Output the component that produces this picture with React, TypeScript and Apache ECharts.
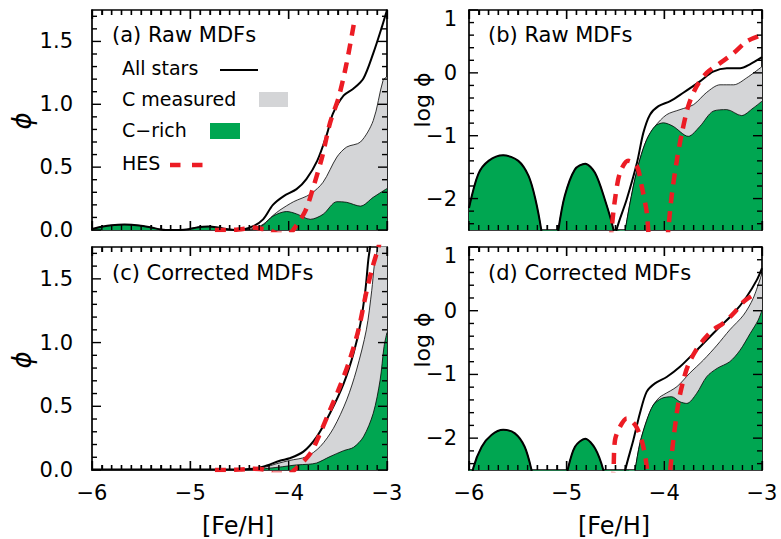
import React, { useEffect, useRef } from "react";
import * as echarts from "echarts";

type P = [number, number];

// ---- tick labels / texts ----
const feTicks = [-6, -5, -4, -3];
const phiTicks = [0, 0.5, 1.0, 1.5];
const logPhiTicks = [-2, -1, 0, 1];
const panelTitles = ["(a) Raw MDFs", "(b) Raw MDFs", "(c) Corrected MDFs", "(d) Corrected MDFs"];
const legendNames = ["All stars", "C measured", "C\u2212rich", "HES"];

// ---- (a) Raw MDFs, linear phi ----
const rawAll: P[] = [
  [-6.0, 0.008], [-5.9, 0.026], [-5.8, 0.038], [-5.67, 0.043], [-5.52, 0.036], [-5.4, 0.02], [-5.3, 0.004],
  [-5.25, 0.0], [-5.1, 0.0], [-5.02, 0.006], [-4.92, 0.022], [-4.82, 0.027], [-4.72, 0.02], [-4.62, 0.006],
  [-4.54, 0.0], [-4.46, 0.004], [-4.36, 0.03], [-4.26, 0.085], [-4.16, 0.2], [-4.05, 0.27], [-3.92, 0.325],
  [-3.82, 0.405], [-3.71, 0.55], [-3.61, 0.765], [-3.55, 0.925], [-3.44, 1.07], [-3.34, 1.125], [-3.24, 1.205],
  [-3.14, 1.405], [-3.05, 1.62], [-3.0, 1.75],
];
const rawMeasured: P[] = [
  [-4.46, 0.0], [-4.36, 0.012], [-4.26, 0.045], [-4.16, 0.115], [-4.09, 0.158], [-3.95, 0.225], [-3.78, 0.285],
  [-3.65, 0.38], [-3.51, 0.58], [-3.41, 0.66], [-3.27, 0.7], [-3.14, 0.87], [-3.04, 1.19], [-3.0, 1.22],
];
const rawRich: P[] = [
  [-6.0, 0.008], [-5.9, 0.026], [-5.8, 0.038], [-5.67, 0.043], [-5.52, 0.036], [-5.4, 0.02], [-5.3, 0.004],
  [-5.25, 0.0], [-5.1, 0.0], [-5.02, 0.006], [-4.92, 0.022], [-4.82, 0.027], [-4.72, 0.02], [-4.62, 0.006],
  [-4.54, 0.0], [-4.4, 0.0], [-4.32, 0.015], [-4.25, 0.045], [-4.16, 0.11], [-4.02, 0.147], [-3.92, 0.128],
  [-3.78, 0.085], [-3.65, 0.125], [-3.51, 0.225], [-3.41, 0.22], [-3.27, 0.19], [-3.14, 0.26], [-3.0, 0.33],
];
const rawHes: P[] = [
  [-4.75, 0.0], [-4.55, 0.002], [-4.45, 0.01], [-4.37, 0.02], [-4.28, 0.01], [-4.2, 0.0], [-4.1, -0.03],
  [-4.0, -0.03], [-3.95, 0.005], [-3.83, 0.152], [-3.75, 0.34], [-3.66, 0.58], [-3.58, 0.85], [-3.49, 1.06],
  [-3.41, 1.33], [-3.33, 1.67],
];

// ---- (b) Raw MDFs, log phi ----
const rawLogAll: P[] = [
  [-6.0, -2.15], [-5.905, -1.61], [-5.8, -1.4], [-5.65, -1.31], [-5.495, -1.4], [-5.39, -1.64], [-5.32, -2.01],
  [-5.26, -2.5], [-5.2, -3.2], [-5.14, -3.2], [-5.085, -2.5], [-5.02, -1.96], [-4.915, -1.535], [-4.81, -1.445],
  [-4.71, -1.59], [-4.61, -2.01], [-4.52, -2.5], [-4.505, -2.75], [-4.49, -2.5], [-4.385, -2.01], [-4.28, -1.43],
  [-4.215, -0.955], [-4.147, -0.665], [-4.06, -0.53], [-3.94, -0.45], [-3.81, -0.32], [-3.635, -0.135],
  [-3.5, 0.02], [-3.36, 0.075], [-3.225, 0.075], [-3.12, 0.14], [-3.0, 0.25],
];
const rawLogMeasured: P[] = [
  [-4.46, -3.2], [-4.4, -2.5], [-4.317, -1.8], [-4.25, -1.375], [-4.18, -1.06], [-4.096, -0.85], [-3.976, -0.665],
  [-3.84, -0.585], [-3.7, -0.505], [-3.566, -0.31], [-3.43, -0.19], [-3.29, -0.19], [-3.157, -0.08], [-3.0, 0.1],
];
const rawLogRich: P[] = [
  [-6.0, -2.15], [-5.905, -1.61], [-5.8, -1.4], [-5.65, -1.31], [-5.495, -1.4], [-5.39, -1.64], [-5.32, -2.01],
  [-5.26, -2.5], [-5.2, -3.2], [-5.14, -3.2], [-5.085, -2.5], [-5.02, -1.96], [-4.915, -1.535], [-4.81, -1.445],
  [-4.71, -1.59], [-4.61, -2.01], [-4.52, -2.5], [-4.46, -3.2], [-4.4, -2.5], [-4.317, -1.8], [-4.25, -1.375],
  [-4.18, -1.06], [-4.096, -0.85], [-4.01, -0.795], [-3.91, -0.85], [-3.755, -1.01], [-3.635, -0.85],
  [-3.5, -0.61], [-3.36, -0.585], [-3.21, -0.68], [-3.09, -0.56], [-3.0, -0.45],
];
const rawLogHes: P[] = [
  [-4.56, -3.0], [-4.54, -2.5], [-4.505, -2.01], [-4.454, -1.59], [-4.37, -1.4], [-4.283, -1.48], [-4.232, -1.8],
  [-4.18, -2.22], [-4.165, -2.5], [-4.14, -3.0], [-3.99, -3.0], [-3.96, -2.5], [-3.925, -1.96], [-3.87, -1.375],
  [-3.82, -0.955], [-3.755, -0.53], [-3.67, -0.215], [-3.566, 0.0], [-3.43, 0.155], [-3.29, 0.315],
  [-3.157, 0.5], [-3.04, 0.58],
];

// ---- (c) Corrected MDFs, linear phi ----
const corAll: P[] = [
  [-6.0, 0.004], [-5.5, 0.004], [-5.0, 0.004], [-4.6, 0.004], [-4.4, 0.008], [-4.26, 0.026], [-4.09, 0.073],
  [-3.99, 0.092], [-3.85, 0.144], [-3.715, 0.26], [-3.58, 0.445], [-3.44, 0.68], [-3.34, 0.916], [-3.27, 1.15],
  [-3.22, 1.41], [-3.19, 1.65], [-3.17, 1.76], [-3.15, 1.9],
];
const corMeasured: P[] = [
  [-6.0, 0.004], [-4.6, 0.004], [-4.4, 0.006], [-4.25, 0.02], [-4.12, 0.05], [-3.99, 0.075], [-3.82, 0.104],
  [-3.68, 0.183], [-3.545, 0.327], [-3.41, 0.55], [-3.31, 0.785], [-3.21, 1.1], [-3.155, 1.41], [-3.13, 1.6],
  [-3.105, 1.7], [-3.08, 1.8], [-3.0, 2.1],
];
const corRich: P[] = [
  [-6.0, 0.004], [-4.6, 0.004], [-4.3, 0.006], [-4.2, 0.014], [-4.06, 0.026], [-3.92, 0.04], [-3.8, 0.045],
  [-3.715, 0.055], [-3.58, 0.105], [-3.44, 0.152], [-3.34, 0.178], [-3.24, 0.26], [-3.14, 0.445], [-3.07, 0.706],
  [-3.03, 0.97], [-3.0, 1.08],
];
const corHes: P[] = [
  [-4.75, 0.0], [-4.5, 0.003], [-4.37, 0.01], [-4.25, 0.003], [-4.15, -0.03], [-4.0, -0.03], [-3.935, 0.005],
  [-3.78, 0.13], [-3.68, 0.288], [-3.58, 0.47], [-3.48, 0.654], [-3.38, 0.863], [-3.29, 1.1], [-3.22, 1.36],
  [-3.155, 1.57], [-3.09, 1.74], [-3.07, 1.8],
];

// ---- (d) Corrected MDFs, log phi ----
const corLogAll: P[] = [
  [-6.0, -2.9], [-5.956, -2.47], [-5.87, -2.135], [-5.77, -1.95], [-5.65, -1.87], [-5.53, -1.925], [-5.43, -2.135],
  [-5.36, -2.5], [-5.3, -3.0], [-5.05, -3.0], [-4.99, -2.5], [-4.915, -2.135], [-4.81, -2.01], [-4.71, -2.16],
  [-4.625, -2.5], [-4.56, -3.0], [-4.46, -3.0], [-4.4, -2.5], [-4.317, -2.03], [-4.25, -1.61], [-4.18, -1.27],
  [-4.096, -1.14], [-3.976, -1.04], [-3.84, -0.88], [-3.7, -0.67], [-3.566, -0.46], [-3.43, -0.25],
  [-3.29, -0.04], [-3.157, 0.22], [-3.054, 0.48], [-3.0, 0.67],
];
const corLogMeasured: P[] = [
  [-4.36, -3.0], [-4.3, -2.5], [-4.25, -2.08], [-4.18, -1.72], [-4.113, -1.48], [-4.05, -1.36], [-4.01, -1.32],
  [-3.87, -1.19], [-3.74, -0.98], [-3.6, -0.775], [-3.46, -0.54], [-3.33, -0.3], [-3.19, -0.07], [-3.09, 0.195],
  [-3.0, 0.59],
];
const corLogRich: P[] = [
  [-6.0, -2.9], [-5.956, -2.47], [-5.87, -2.135], [-5.77, -1.95], [-5.65, -1.87], [-5.53, -1.925], [-5.43, -2.135],
  [-5.36, -2.5], [-5.3, -3.0], [-5.05, -3.0], [-4.99, -2.5], [-4.915, -2.135], [-4.81, -2.01], [-4.71, -2.16],
  [-4.625, -2.5], [-4.56, -3.0], [-4.36, -3.0], [-4.3, -2.5], [-4.25, -2.08], [-4.18, -1.72], [-4.113, -1.48],
  [-4.027, -1.375], [-3.925, -1.35], [-3.84, -1.43], [-3.77, -1.455], [-3.67, -1.3], [-3.566, -1.035],
  [-3.46, -0.905], [-3.33, -0.8], [-3.225, -0.62], [-3.12, -0.355], [-3.04, -0.15], [-3.0, 0.01],
];
const corLogHes: P[] = [
  [-4.54, -3.0], [-4.52, -2.5], [-4.505, -2.03], [-4.454, -1.82], [-4.385, -1.69], [-4.3, -1.79], [-4.232, -2.03],
  [-4.18, -2.45], [-4.16, -3.0], [-3.97, -3.0], [-3.94, -2.5], [-3.908, -2.03], [-3.857, -1.455], [-3.805, -1.09],
  [-3.755, -0.85], [-3.686, -0.645], [-3.6, -0.46], [-3.5, -0.3], [-3.4, -0.2], [-3.29, -0.04], [-3.19, 0.14],
  [-3.09, 0.245],
];

// ---- axis ranges & tick steps ----
const feRange = [-6, -3];
const phiRange = [0, 1.75];
const logPhiRange = [-2.5, 1];
const feMinorStep = 0.1;
const phiMinorStep = 0.1;
const logPhiMinorStep = 0.2;
const MAJOR_LEN = 9;
const MINOR_LEN = 5;

// ---- styles ----
const FONT = "'DejaVu Sans', 'Liberation Sans', sans-serif";
const GREEN = "#00a651";
const GRAY = "#d4d5d7";
const RED = "#ec1c24";
const BLACK = "#000000";
const minus = (s: string) => s.replace("-", "\u2212");

const grids = [
  { left: 92, top: 10, width: 295, height: 220 },
  { left: 469, top: 10, width: 293, height: 220 },
  { left: 92, top: 247, width: 295, height: 223 },
  { left: 469, top: 247, width: 293, height: 223 },
];
const panelIsLog = [false, true, false, true];

function stepValues(lo: number, hi: number, step: number) {
  const out: number[] = [];
  const n0 = Math.ceil(lo / step - 1e-6);
  const n1 = Math.floor(hi / step + 1e-6);
  for (let n = n0; n <= n1; n++) out.push(Math.round(n * step * 1000) / 1000);
  return out;
}
const isMultiple = (v: number, m: number) => Math.abs(v / m - Math.round(v / m)) < 1e-6;

function xAxesFor(gi: number, labels: boolean) {
  const base: any = {
    gridIndex: gi,
    type: "value",
    min: feRange[0],
    max: feRange[1],
    interval: 1,
    splitLine: { show: false },
    axisTick: { show: true, inside: true, length: MAJOR_LEN, lineStyle: { color: BLACK, width: 1.3 } },
    minorTick: { show: true, splitNumber: 10, length: MINOR_LEN, lineStyle: { color: BLACK, width: 1.3 } },
    axisLine: { show: true, onZero: false, lineStyle: { color: BLACK, width: 1.7 } },
  };
  return [
    {
      ...base,
      position: "bottom",
      axisLabel: {
        show: labels, color: BLACK, fontSize: 21, fontFamily: FONT, margin: 12,
        formatter: (v: number) => (feTicks.includes(v) ? minus(String(v)) : ""),
      },
    },
    { ...base, position: "top", axisLabel: { show: false } },
  ];
}

function yAxesFor(gi: number, log: boolean) {
  const range = log ? logPhiRange : phiRange;
  const spacing = log ? { minInterval: 1, maxInterval: 1 } : { interval: 0.5 };
  const common: any = {
    gridIndex: gi, type: "value", min: range[0], max: range[1], ...spacing,
    splitLine: { show: false },
    axisTick: { show: false },
    axisLine: { show: true, onZero: false, lineStyle: { color: BLACK, width: 1.7 } },
  };
  const label = {
    show: true, color: BLACK, fontSize: 21, fontFamily: FONT, margin: log ? 12 : 19,
    showMinLabel: true, showMaxLabel: true,
    formatter: (v: number) => {
      if (log) {
        if (!logPhiTicks.includes(v)) return "";
        return v === 1 ? "{top|1}" : minus(String(v));
      }
      return phiTicks.includes(v) ? v.toFixed(1) : "";
    },
    rich: { top: { padding: [18, 0, 0, 0], fontSize: 21, fontFamily: FONT, color: BLACK } },
  };
  return [
    { ...common, position: "left", axisLabel: label },
    { ...common, position: "right", axisLabel: { show: false } },
  ];
}

function seriesFor(gi: number, all: P[], measured: P[], rich: P[], hes: P[]) {
  const ax = { xAxisIndex: gi * 2, yAxisIndex: gi * 2 };
  const base = { type: "line", ...ax, smooth: 0.3, symbol: "none", silent: true, clip: true };
  return [
    {
      ...base, name: legendNames[1], data: measured, z: 2,
      lineStyle: { color: BLACK, width: 0.8 },
      areaStyle: { color: GRAY, opacity: 1, origin: "start" },
    },
    {
      ...base, name: legendNames[2], data: rich, z: 3,
      lineStyle: { color: BLACK, width: 0.8 },
      areaStyle: { color: GREEN, opacity: 1, origin: "start" },
    },
    { ...base, name: legendNames[0], data: all, z: 4, lineStyle: { color: BLACK, width: 2 } },
    { ...base, name: legendNames[3], data: hes, z: 5, lineStyle: { color: RED, width: 4.5, type: [11, 8] } },
  ];
}

const txt = (text: string, x: number, y: number, size: number) => ({
  type: "text",
  x,
  y,
  z: 100,
  style: { text, fill: BLACK, fontSize: size, fontFamily: FONT, align: "left", verticalAlign: "middle" },
});

const centered = (text: string, x: number, y: number, size: number, rot: number, italic = false) => ({
  type: "text",
  x,
  y,
  z: 100,
  rotation: rot,
  style: {
    text, fill: BLACK, fontSize: size, fontFamily: FONT, fontStyle: italic ? "italic" : "normal",
    align: "center", verticalAlign: "middle",
  },
});

// inward tick marks (thin filled rects) on all four sides of each panel
function tickRects(): any[] {
  const out: any[] = [];
  const w = 1.4;
  const bar = (x: number, y: number, width: number, height: number) => ({
    type: "rect", z: 100, shape: { x, y, width, height }, style: { fill: "#000000" },
  });
  grids.forEach((g, gi) => {
    const log = panelIsLog[gi];
    const yr = log ? logPhiRange : phiRange;
    const ystep = log ? logPhiMinorStep : phiMinorStep;
    const yMajor = log ? 1 : 0.5;
    const px = (x: number) => g.left + ((x - feRange[0]) / (feRange[1] - feRange[0])) * g.width;
    const py = (y: number) => g.top + g.height - ((y - yr[0]) / (yr[1] - yr[0])) * g.height;
    for (const v of stepValues(feRange[0], feRange[1], feMinorStep)) {
      const len = isMultiple(v, 1) ? MAJOR_LEN : MINOR_LEN;
      const x = px(v) - w / 2;
      out.push(bar(x, g.top + g.height - len, w, len), bar(x, g.top, w, len));
    }
    for (const v of stepValues(yr[0], yr[1], ystep)) {
      const len = isMultiple(v, yMajor) ? MAJOR_LEN : MINOR_LEN;
      const y = py(v) - w / 2;
      out.push(bar(g.left, y, len, w), bar(g.left + g.width - len, y, len, w));
    }
  });
  return out;
}

function buildOption() {
  const xAxis = [...xAxesFor(0, false), ...xAxesFor(1, false), ...xAxesFor(2, true), ...xAxesFor(3, true)];
  const yAxis = [...yAxesFor(0, false), ...yAxesFor(1, true), ...yAxesFor(2, false), ...yAxesFor(3, true)];
  const series = [
    ...seriesFor(0, rawAll, rawMeasured, rawRich, rawHes),
    ...seriesFor(1, rawLogAll, rawLogMeasured, rawLogRich, rawLogHes),
    ...seriesFor(2, corAll, corMeasured, corRich, corHes),
    ...seriesFor(3, corLogAll, corLogMeasured, corLogRich, corLogHes),
  ];
  const graphic: any[] = [
    ...tickRects(),
    txt(panelTitles[0], 112, 35, 21),
    txt(panelTitles[1], 488, 35, 21),
    txt(panelTitles[2], 112, 273, 21),
    txt(panelTitles[3], 488, 273, 21),
    // legend
    txt(legendNames[0], 122, 68, 19),
    { type: "line", z: 100, shape: { x1: 220, y1: 70, x2: 258, y2: 70 }, style: { stroke: BLACK, lineWidth: 2 } },
    txt(legendNames[1], 122, 99, 19),
    { type: "rect", z: 100, shape: { x: 259, y: 92, width: 29, height: 15 }, style: { fill: GRAY } },
    txt(legendNames[2], 122, 130, 19),
    { type: "rect", z: 100, shape: { x: 210, y: 123, width: 30, height: 16 }, style: { fill: GREEN } },
    txt(legendNames[3], 122, 163, 19),
    {
      type: "line", z: 100, shape: { x1: 170, y1: 165, x2: 203, y2: 165 },
      style: { stroke: RED, lineWidth: 4.5, lineDash: [10.5, 11.5] },
    },
    // axis names
    centered("\u03d5", 22, 121, 26, Math.PI / 2, true),
    centered("\u03d5", 22, 360, 26, Math.PI / 2, true),
    centered("log \u03d5", 422, 100, 22, Math.PI / 2),
    centered("log \u03d5", 422, 340, 22, Math.PI / 2),
    centered("[Fe/H]", 238, 526, 24, 0),
    centered("[Fe/H]", 614, 526, 24, 0),
  ];
  return {
    animation: false,
    backgroundColor: "#ffffff",
    grid: grids.map((g) => ({ ...g, containLabel: false })),
    xAxis,
    yAxis,
    series,
    graphic,
  };
}

export default function App() {
  const ref = useRef<HTMLDivElement>(null);
  useEffect(() => {
    if (!ref.current) return;
    const chart = echarts.init(ref.current, null, { renderer: "svg" });
    chart.setOption(buildOption() as any);
    return () => chart.dispose();
  }, []);
  return (
    <div
      ref={ref}
      style={{ position: "absolute", left: 0, top: 0, width: 781, height: 539, background: "#fff" }}
    />
  );
}
